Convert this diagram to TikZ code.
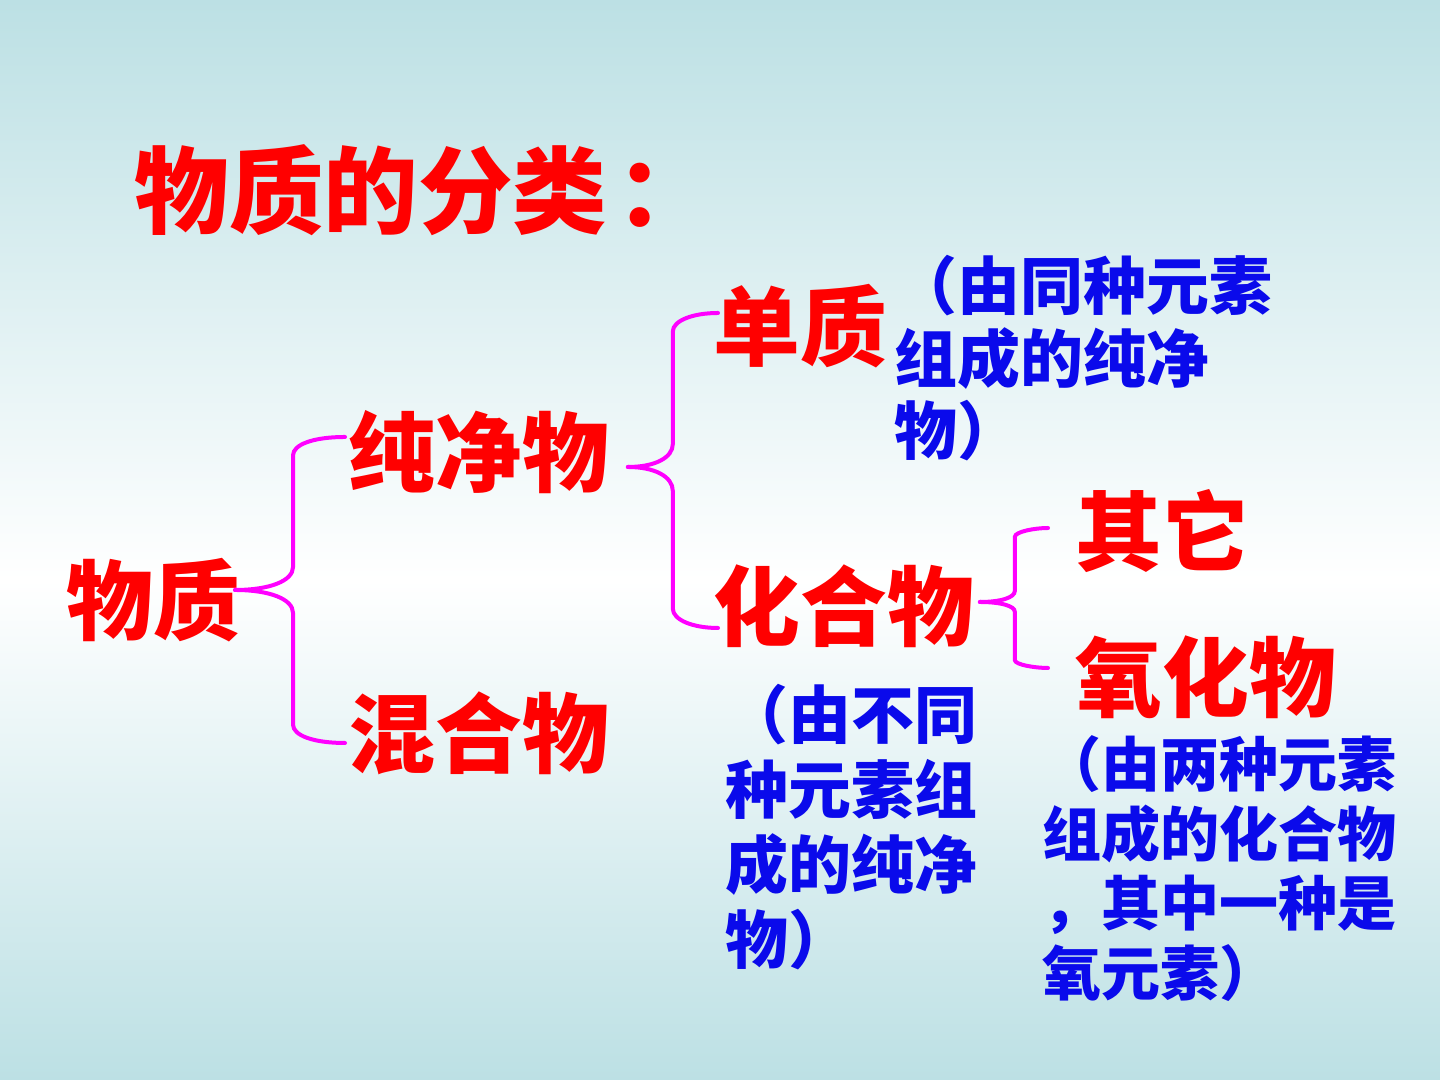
\documentclass[tikz,border=0pt]{standalone}
\usepackage{fontspec}
\newfontfamily\cjk{Noto Sans CJK SC}
\usepackage{xcolor}
\usetikzlibrary{calc}
\definecolor{bgblue}{RGB}{188,224,228}
\definecolor{txtred}{RGB}{255,0,0}
\definecolor{txtblue}{RGB}{10,10,235}
\definecolor{bracepink}{RGB}{255,0,255}
\tikzset{redlabel/.style={text=txtred, font=\cjk\bfseries\fontsize{#1}{30}\selectfont, inner sep=0pt, anchor=west},
 redlabel/.default=24.7,
 bluenote/.style={text=txtblue, font=\cjk\bfseries\fontsize{17.9}{#1}\selectfont, inner sep=0pt, anchor=north west, align=left},
 bluenote/.default=20.6,
 half/.style={draw=bracepink, line width=0.04cm, line cap=round,
 to path={let \p1=(\tikztostart), \p2=(\tikztotarget), \n1={\y2-\y1} in
 (\p1) .. controls (\x1+0.6*#1,\y1) and (\x1+#1,\y1+0.06*\n1) .. (\x1+#1,\y1+0.15*\n1)
 -- (\x1+#1,\y2-0.12*\n1)
 .. controls (\x1+#1,\y2-0.05*\n1) and (\x1+#1+0.2cm,\y2) .. (\p2)}},
 }

\begin{document}
\begin{tikzpicture}
        \useasboundingbox (0,0) rectangle (14.4,10.8);
        \shade[top color=bgblue, bottom color=white] (0,5.0) rectangle (14.4,10.8);
        \shade[top color=white, bottom color=bgblue] (0,0) rectangle (14.4,5.0);

        \node[redlabel=26.9] (title) at (1.34,8.90) {物质的分类\kern0.1em：};

        \node[redlabel] (wz) at (0.66,4.80) {物质};
        \node[redlabel] (cj) at (3.48,6.28) {纯净物};
        \node[redlabel] (hh) at (3.48,3.47) {混合物};
        \node[redlabel] (dz) at (7.13,7.54) {单质};
        \node[redlabel] (hhw) at (7.13,4.74) {化合物};
        \node[redlabel] (qt) at (10.75,5.49) {其它};
        \node[redlabel] (yhw) at (10.75,4.03) {氧化物};

        \node[bluenote] (dznote) at (8.94,8.25) {（由同种元素\\组成的纯净\\物）};
        \node[bluenote=21.3] (hhwnote) at (7.25,3.96) {（由不同\\种元素组\\成的纯净\\物）};
        \node[bluenote=19.8, font=\cjk\bfseries\fontsize{16.8}{19.8}\selectfont] (yhwnote) at (10.42,3.45) {（由两种元素\\组成的化合物\\，其中一种是\\氧元素）};

        \draw[half=0.58cm] ([shift={(-0.06,0.10)}]wz.east) to ([shift={(-0.03,0.15)}]cj.west);
        \draw[half=0.58cm] ([shift={(-0.06,0.10)}]wz.east) to ([shift={(-0.03,-0.10)}]hh.west);

        \draw[half=0.45cm] ([shift={(0.18,-0.15)}]cj.east) to ([shift={(0.05,0.13)}]dz.west);
        \draw[half=0.45cm] ([shift={(0.18,-0.15)}]cj.east) to ([shift={(0.05,-0.22)}]hhw.west);

        \draw[half=0.35cm] ([shift={(0.05,0.04)}]hhw.east) to ([shift={(-0.27,0.03)}]qt.west);
        \draw[half=0.35cm] ([shift={(0.05,0.04)}]hhw.east) to ([shift={(-0.27,0.09)}]yhw.west);
    \end{tikzpicture}
\end{document}
